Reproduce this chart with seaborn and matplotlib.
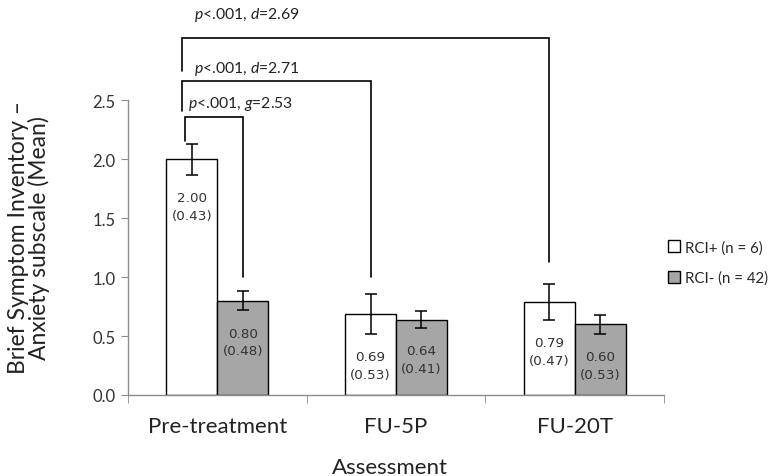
import matplotlib
matplotlib.use("Agg")
import matplotlib.pyplot as plt
import seaborn as sns
import pandas as pd
import numpy as np

# ---- data ----
assessments = ["Pre-treatment", "FU-5P", "FU-20T"]
groups = ["RCI+ (n = 6)", "RCI- (n = 42)"]
rci_pos_mean = [2.00, 0.69, 0.79]
rci_pos_sd = [0.43, 0.53, 0.47]
rci_pos_err = [0.13, 0.17, 0.15]
rci_neg_mean = [0.80, 0.64, 0.60]
rci_neg_sd = [0.48, 0.41, 0.53]
rci_neg_err = [0.08, 0.07, 0.08]
y_ticks = [0.0, 0.5, 1.0, 1.5, 2.0, 2.5]
comparison_labels = ["$p$<.001, $g$=2.53", "$p$<.001, $d$=2.71", "$p$<.001, $d$=2.69"]

df = pd.DataFrame({
    "Assessment": assessments * 2,
    "Group": [groups[0]] * 3 + [groups[1]] * 3,
    "Mean": rci_pos_mean + rci_neg_mean,
})

sns.set_style("white")
plt.rcParams["font.family"] = ["Lato", "DejaVu Sans"]
plt.rcParams["mathtext.fontset"] = "custom"
plt.rcParams["mathtext.it"] = "Lato:italic"
plt.rcParams["mathtext.rm"] = "Lato"

fig = plt.figure(figsize=(7.71, 4.77), dpi=100)
ax = fig.add_axes([128 / 771, 81 / 477, 536 / 771, 395 / 477])

sns.barplot(data=df, x="Assessment", y="Mean", hue="Group", order=assessments,
            hue_order=groups, palette=["white", "#a6a6a6"], edgecolor="black",
            linewidth=1.0, width=0.57, gap=0, errorbar=None, ax=ax)

gray = "#8c8c8c"
for cont, means, sds, errs in zip(ax.containers, [rci_pos_mean, rci_neg_mean],
                                  [rci_pos_sd, rci_neg_sd], [rci_pos_err, rci_neg_err]):
    xs = [p.get_x() + p.get_width() / 2 for p in cont.patches]
    ax.errorbar(xs, means, yerr=errs, fmt="none", ecolor="black", elinewidth=1.1,
                capsize=4, capthick=1.1, zorder=5)
    for x, m, s, e in zip(xs, means, sds, errs):
        ax.text(x, m - e - 0.27, f"{m:.2f}\n({s:.2f})", ha="center", va="center",
                fontsize=9.7, family="DejaVu Sans", color="#333333", linespacing=1.45)

ax.set_ylim(0, 3.35)
ax.set_xlim(-0.5, 2.5)
ax.set_yticks(y_ticks)
ax.set_yticklabels([f"{v:.1f}" for v in y_ticks], fontsize=12, color="#333333")
ax.spines["top"].set_visible(False)
ax.spines["right"].set_visible(False)
for s in ["left", "bottom"]:
    ax.spines[s].set_color(gray)
    ax.spines[s].set_linewidth(1.0)
ax.spines["left"].set_bounds(0, 2.5)
ax.tick_params(axis="y", which="major", direction="out", length=5, color=gray, left=True, pad=4)
ax.tick_params(axis="x", which="major", length=0, pad=15, labelsize=16, labelcolor="#222222")
ax.set_xticks([-0.5, 0.5, 1.5, 2.5], minor=True)
ax.tick_params(axis="x", which="minor", direction="out", length=6, color=gray, bottom=True)

ax.set_xlabel("Assessment", fontsize=16, color="#222222")
ax.xaxis.set_label_coords(0.489, -0.156)
ax.set_ylabel("Brief Symptom Inventory \u2013\nAnxiety subscale (Mean)", fontsize=16.5,
              color="#222222", linespacing=0.95)
ax.yaxis.set_label_coords(-0.145, 0.40)

# comparison brackets
pos_x = [p.get_x() + p.get_width() / 2 for p in ax.containers[0].patches]
neg_x = [p.get_x() + p.get_width() / 2 for p in ax.containers[1].patches]
brackets = [
    (-0.18, neg_x[0], 2.356, 2.15, 1.00),
    (-0.20, pos_x[1], 2.664, 2.41, 1.00),
    (-0.20, pos_x[2], 3.03, 2.75, 1.13),
]
label_pos = [(-0.162, 2.48), (-0.13, 2.77), (-0.13, 3.23)]
for (x0, x1, top, lb, rb), lab, (tx, ty) in zip(brackets, comparison_labels, label_pos):
    ax.plot([x0, x0, x1, x1], [lb, top, top, rb], color="black", lw=1.2,
            solid_joinstyle="miter", clip_on=False)
    ax.text(tx, ty, lab, ha="left", va="center", fontsize=11.3, color="#222222")

sns.move_legend(ax, loc="upper left", bbox_to_anchor=(668 / 771, 1 - 241 / 477),
                bbox_transform=fig.transFigure, frameon=False, title=None,
                fontsize=10.8, handlelength=0.8, handleheight=0.8, handletextpad=0.35,
                labelspacing=1.1, borderpad=0, borderaxespad=0)

fig.savefig("out.png", dpi=100)
